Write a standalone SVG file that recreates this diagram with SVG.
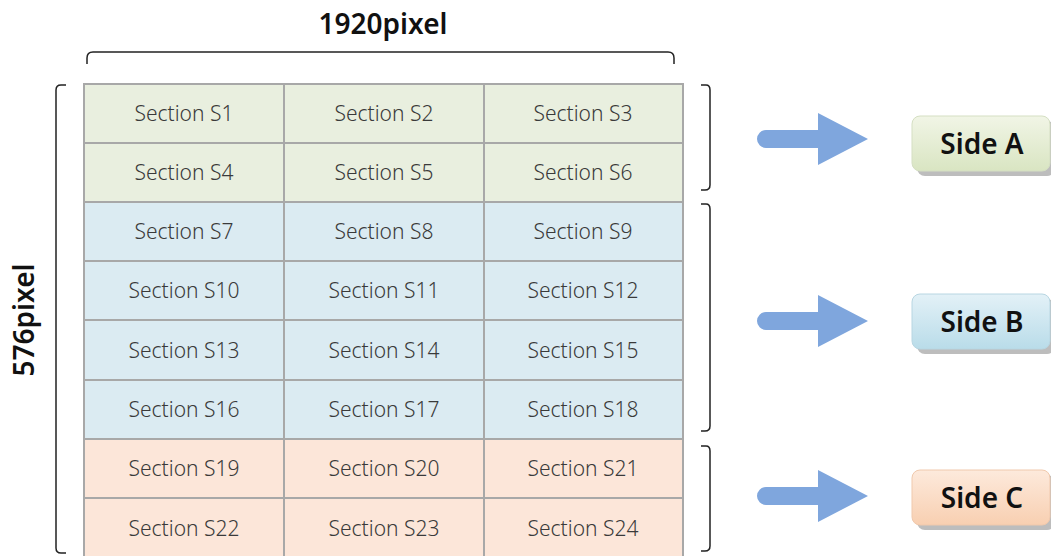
<svg xmlns="http://www.w3.org/2000/svg" width="1051" height="556" viewBox="0 0 1051 556">
<defs>
<style>
.cell{stroke:#a8a8a8;stroke-width:2}
.g{fill:#e9efdf}.b{fill:#dbebf2}.o{fill:#fce6d9}
.ct{font-family:"Noto Sans","Liberation Sans",sans-serif;font-size:21px;font-weight:300;fill:#3a3a3a;text-anchor:middle}
.br{fill:none;stroke:#222;stroke-width:1.5}
.arr{fill:#7fa6dd}
.side{font-family:"Noto Sans","Liberation Sans",sans-serif;font-size:28px;font-weight:600;fill:#111;text-anchor:middle}
.dim{font-family:"Noto Sans","Liberation Sans",sans-serif;font-size:28px;font-weight:600;fill:#111;text-anchor:middle}
.shadow{fill:#bdbdbd}
</style>
<linearGradient id="ga" x1="0" y1="0" x2="0" y2="1"><stop offset="0" stop-color="#f1f5e6"/><stop offset="1" stop-color="#d9e5c2"/></linearGradient>
<linearGradient id="gb" x1="0" y1="0" x2="0" y2="1"><stop offset="0" stop-color="#e3f1f7"/><stop offset="1" stop-color="#b9dce9"/></linearGradient>
<linearGradient id="gc" x1="0" y1="0" x2="0" y2="1"><stop offset="0" stop-color="#fdeadc"/><stop offset="1" stop-color="#f8cfb1"/></linearGradient>
<g id="arrowShape"><path class="arr" d="M9,-9 H61 V-26 L111,0 L61,26 V9 H9 A9,9 0 0 1 9,-9 Z"/></g>
</defs>
<rect width="1051" height="556" fill="#fff"/>
<text class="dim" x="383" y="34">1920pixel</text>
<text class="dim" transform="translate(34,320) rotate(-90)">576pixel</text>
<g id="brackets">
<path class="br" d="M87,64 V58 Q87,52 93,52 H668 Q674,52 674,58 V64"/>
<path class="br" d="M66,85 H61 Q56,85 56,90 V548 Q56,553 61,553 H66"/>
<path class="br" d="M701,85 H706 Q710,85 710,90 V185 Q710,190 705,190 H701"/>
<path class="br" d="M701,204 H706 Q710,204 710,209 V426 Q710,431 705,431 H701"/>
<path class="br" d="M701,446 H706 Q710,446 710,451 V546 Q710,551 705,551 H701"/>
</g>
<g id="grid">
<g id="s1"><rect class="cell g" x="84" y="84" width="200" height="59"/><text class="ct" x="184" y="121">Section S1</text></g>
<g id="s2"><rect class="cell g" x="284" y="84" width="200" height="59"/><text class="ct" x="384" y="121">Section S2</text></g>
<g id="s3"><rect class="cell g" x="484" y="84" width="199" height="59"/><text class="ct" x="583" y="121">Section S3</text></g>
<g id="s4"><rect class="cell g" x="84" y="143" width="200" height="59"/><text class="ct" x="184" y="180">Section S4</text></g>
<g id="s5"><rect class="cell g" x="284" y="143" width="200" height="59"/><text class="ct" x="384" y="180">Section S5</text></g>
<g id="s6"><rect class="cell g" x="484" y="143" width="199" height="59"/><text class="ct" x="583" y="180">Section S6</text></g>
<g id="s7"><rect class="cell b" x="84" y="202" width="200" height="59"/><text class="ct" x="184" y="239">Section S7</text></g>
<g id="s8"><rect class="cell b" x="284" y="202" width="200" height="59"/><text class="ct" x="384" y="239">Section S8</text></g>
<g id="s9"><rect class="cell b" x="484" y="202" width="199" height="59"/><text class="ct" x="583" y="239">Section S9</text></g>
<g id="s10"><rect class="cell b" x="84" y="261" width="200" height="59"/><text class="ct" x="184" y="298">Section S10</text></g>
<g id="s11"><rect class="cell b" x="284" y="261" width="200" height="59"/><text class="ct" x="384" y="298">Section S11</text></g>
<g id="s12"><rect class="cell b" x="484" y="261" width="199" height="59"/><text class="ct" x="583" y="298">Section S12</text></g>
<g id="s13"><rect class="cell b" x="84" y="320" width="200" height="60"/><text class="ct" x="184" y="358">Section S13</text></g>
<g id="s14"><rect class="cell b" x="284" y="320" width="200" height="60"/><text class="ct" x="384" y="358">Section S14</text></g>
<g id="s15"><rect class="cell b" x="484" y="320" width="199" height="60"/><text class="ct" x="583" y="358">Section S15</text></g>
<g id="s16"><rect class="cell b" x="84" y="380" width="200" height="59"/><text class="ct" x="184" y="417">Section S16</text></g>
<g id="s17"><rect class="cell b" x="284" y="380" width="200" height="59"/><text class="ct" x="384" y="417">Section S17</text></g>
<g id="s18"><rect class="cell b" x="484" y="380" width="199" height="59"/><text class="ct" x="583" y="417">Section S18</text></g>
<g id="s19"><rect class="cell o" x="84" y="439" width="200" height="59"/><text class="ct" x="184" y="476">Section S19</text></g>
<g id="s20"><rect class="cell o" x="284" y="439" width="200" height="59"/><text class="ct" x="384" y="476">Section S20</text></g>
<g id="s21"><rect class="cell o" x="484" y="439" width="199" height="59"/><text class="ct" x="583" y="476">Section S21</text></g>
<g id="s22"><rect class="cell o" x="84" y="498" width="200" height="59"/><text class="ct" x="184" y="536">Section S22</text></g>
<g id="s23"><rect class="cell o" x="284" y="498" width="200" height="59"/><text class="ct" x="384" y="536">Section S23</text></g>
<g id="s24"><rect class="cell o" x="484" y="498" width="199" height="59"/><text class="ct" x="583" y="536">Section S24</text></g>
</g>
<g id="connectors">
<use href="#arrowShape" transform="translate(757,139)"/>
<use href="#arrowShape" transform="translate(757,321)"/>
<use href="#arrowShape" transform="translate(757,496)"/>
</g>
<g id="sideA">
<rect class="shadow" x="917" y="121" width="138" height="55" rx="8"/>
<rect x="912" y="116" width="138" height="55" rx="8" fill="url(#ga)" stroke="#d5dfc3" stroke-width="1"/>
<text class="side" x="982" y="154">Side A</text>
</g>
<g id="sideB">
<rect class="shadow" x="917" y="299" width="138" height="55" rx="8"/>
<rect x="912" y="294" width="138" height="55" rx="8" fill="url(#gb)" stroke="#b8d6e2" stroke-width="1"/>
<text class="side" x="982" y="332">Side B</text>
</g>
<g id="sideC">
<rect class="shadow" x="917" y="475" width="138" height="55" rx="8"/>
<rect x="912" y="470" width="138" height="55" rx="8" fill="url(#gc)" stroke="#f0c9ad" stroke-width="1"/>
<text class="side" x="982" y="508">Side C</text>
</g>
</svg>
